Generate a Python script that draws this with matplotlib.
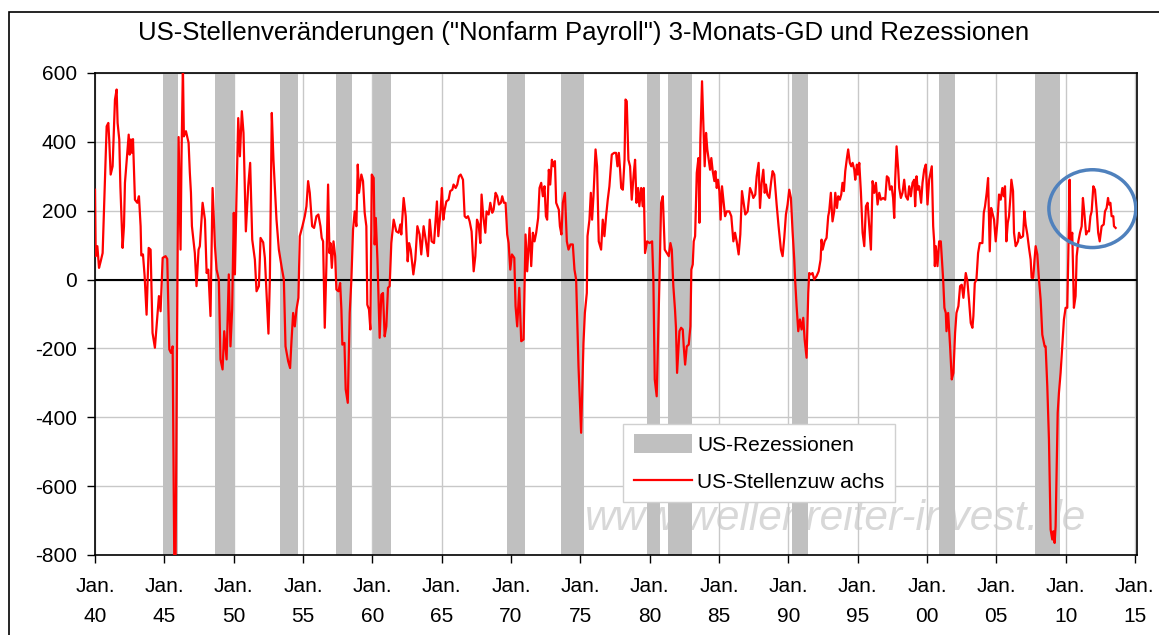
import matplotlib
matplotlib.use('Agg')
import matplotlib.pyplot as plt
from matplotlib.patches import Ellipse, Rectangle
from matplotlib.lines import Line2D

plt.rcParams['font.family'] = ['Liberation Sans', 'DejaVu Sans']

# 3-Monats-GD der Stellenveraenderung (Tsd.)
jahr = [
    1940.00, 1940.05, 1940.17, 1940.29, 1940.41, 1940.55, 1940.84, 1940.96, 1941.03, 1941.13,
    1941.27, 1941.44, 1941.56, 1941.63, 1941.75, 1941.83, 1941.99, 1942.09, 1942.16, 1942.43,
    1942.50, 1942.59, 1942.67, 1942.74, 1942.88, 1943.05, 1943.17, 1943.29, 1943.34, 1943.46,
    1943.58, 1943.72, 1943.87, 1944.01, 1944.15, 1944.32, 1944.61, 1944.73, 1944.88, 1945.09,
    1945.21, 1945.36, 1945.48, 1945.60, 1945.72, 1945.81, 1945.96, 1946.03, 1946.17, 1946.24,
    1946.34, 1946.41, 1946.56, 1946.75, 1946.84, 1946.92, 1946.99, 1947.20, 1947.32, 1947.47,
    1947.56, 1947.76, 1947.93, 1948.05, 1948.17, 1948.33, 1948.48, 1948.65, 1948.77, 1948.93,
    1949.05, 1949.20, 1949.32, 1949.49, 1949.65, 1949.77, 1949.89, 1950.01, 1950.09, 1950.21,
    1950.33, 1950.45, 1950.59, 1950.71, 1950.88, 1951.05, 1951.19, 1951.34, 1951.53, 1951.65,
    1951.82, 1951.94, 1952.13, 1952.25, 1952.51, 1952.61, 1952.75, 1952.87, 1953.09, 1953.26,
    1953.47, 1953.62, 1953.74, 1953.93, 1954.07, 1954.17, 1954.29, 1954.41, 1954.53, 1954.67,
    1954.77, 1954.96, 1955.13, 1955.25, 1955.37, 1955.49, 1955.66, 1955.80, 1955.97, 1956.11,
    1956.26, 1956.35, 1956.45, 1956.57, 1956.69, 1956.81, 1956.91, 1956.98, 1957.08, 1957.20,
    1957.32, 1957.41, 1957.56, 1957.68, 1957.77, 1957.84, 1957.99, 1958.08, 1958.23, 1958.37,
    1958.49, 1958.61, 1958.73, 1958.85, 1958.95, 1959.04, 1959.21, 1959.33, 1959.45, 1959.57,
    1959.64, 1959.76, 1959.86, 1959.96, 1960.10, 1960.17, 1960.25, 1960.37, 1960.53, 1960.65,
    1960.77, 1960.89, 1961.01, 1961.13, 1961.25, 1961.37, 1961.54, 1961.73, 1961.90, 1962.02,
    1962.09, 1962.26, 1962.41, 1962.55, 1962.65, 1962.77, 1962.96, 1963.10, 1963.25, 1963.41,
    1963.53, 1963.70, 1963.85, 1964.01, 1964.14, 1964.28, 1964.45, 1964.66, 1964.76, 1964.93,
    1965.02, 1965.12, 1965.22, 1965.34, 1965.50, 1965.62, 1965.77, 1965.86, 1966.01, 1966.13,
    1966.25, 1966.37, 1966.54, 1966.66, 1966.78, 1966.90, 1967.02, 1967.16, 1967.31, 1967.43,
    1967.55, 1967.67, 1967.79, 1967.88, 1968.00, 1968.15, 1968.24, 1968.39, 1968.51, 1968.65,
    1968.75, 1968.89, 1969.01, 1969.13, 1969.27, 1969.37, 1969.49, 1969.61, 1969.73, 1969.83,
    1969.95, 1970.07, 1970.24, 1970.33, 1970.45, 1970.60, 1970.74, 1970.91, 1971.05, 1971.17,
    1971.34, 1971.46, 1971.58, 1971.70, 1971.82, 1971.96, 1972.06, 1972.18, 1972.30, 1972.42,
    1972.52, 1972.61, 1972.73, 1972.83, 1972.95, 1973.07, 1973.17, 1973.26, 1973.45, 1973.53,
    1973.64, 1973.74, 1973.89, 1974.03, 1974.15, 1974.29, 1974.46, 1974.58, 1974.70, 1974.87,
    1975.06, 1975.23, 1975.33, 1975.47, 1975.52, 1975.66, 1975.76, 1975.85, 1975.95, 1976.10,
    1976.21, 1976.33, 1976.50, 1976.62, 1976.74, 1976.86, 1976.98, 1977.10, 1977.27, 1977.44,
    1977.58, 1977.68, 1977.78, 1977.87, 1977.95, 1978.07, 1978.19, 1978.26, 1978.35, 1978.47,
    1978.59, 1978.71, 1978.86, 1978.95, 1979.05, 1979.17, 1979.26, 1979.39, 1979.50, 1979.58,
    1979.67, 1979.82, 1979.99, 1980.18, 1980.27, 1980.37, 1980.51, 1980.71, 1980.83, 1980.95,
    1981.09, 1981.24, 1981.38, 1981.50, 1981.60, 1981.71, 1981.83, 1981.90, 1981.98, 1982.15,
    1982.27, 1982.39, 1982.46, 1982.56, 1982.68, 1982.82, 1982.94, 1983.01, 1983.11, 1983.18,
    1983.28, 1983.40, 1983.52, 1983.59, 1983.66, 1983.78, 1983.88, 1983.97, 1984.07, 1984.16,
    1984.26, 1984.36, 1984.45, 1984.55, 1984.67, 1984.74, 1984.84, 1984.93, 1985.03, 1985.12,
    1985.22, 1985.32, 1985.44, 1985.56, 1985.75, 1985.89, 1986.04, 1986.16, 1986.28, 1986.42,
    1986.54, 1986.66, 1986.78, 1986.90, 1987.07, 1987.24, 1987.38, 1987.48, 1987.62, 1987.72,
    1987.86, 1987.96, 1988.08, 1988.20, 1988.30, 1988.39, 1988.49, 1988.63, 1988.77, 1988.87,
    1988.99, 1989.16, 1989.30, 1989.47, 1989.59, 1989.71, 1989.83, 1989.95, 1990.07, 1990.19,
    1990.31, 1990.43, 1990.50, 1990.60, 1990.72, 1990.84, 1990.96, 1991.08, 1991.18, 1991.32,
    1991.44, 1991.51, 1991.63, 1991.75, 1991.87, 1992.04, 1992.19, 1992.33, 1992.40, 1992.48,
    1992.62, 1992.76, 1992.88, 1992.95, 1993.07, 1993.19, 1993.31, 1993.39, 1993.51, 1993.60,
    1993.72, 1993.82, 1993.91, 1994.01, 1994.11, 1994.23, 1994.32, 1994.44, 1994.54, 1994.64,
    1994.76, 1994.83, 1994.95, 1995.02, 1995.12, 1995.24, 1995.36, 1995.48, 1995.60, 1995.72,
    1995.84, 1995.96, 1996.08, 1996.20, 1996.32, 1996.44, 1996.56, 1996.68, 1996.84, 1996.99,
    1997.11, 1997.23, 1997.33, 1997.45, 1997.56, 1997.64, 1997.71, 1997.81, 1997.93, 1998.00,
    1998.12, 1998.24, 1998.36, 1998.48, 1998.62, 1998.72, 1998.84, 1998.96, 1999.08, 1999.15,
    1999.25, 1999.34, 1999.44, 1999.58, 1999.68, 1999.80, 1999.92, 2000.04, 2000.16, 2000.35,
    2000.45, 2000.52, 2000.57, 2000.64, 2000.76, 2000.88, 2001.00, 2001.17, 2001.26, 2001.36,
    2001.41, 2001.53, 2001.67, 2001.79, 2001.91, 2002.03, 2002.13, 2002.27, 2002.39, 2002.51,
    2002.63, 2002.80, 2002.92, 2003.04, 2003.16, 2003.28, 2003.35, 2003.45, 2003.57, 2003.69,
    2003.81, 2004.00, 2004.10, 2004.19, 2004.31, 2004.41, 2004.53, 2004.63, 2004.72, 2004.84,
    2004.96, 2005.08, 2005.20, 2005.32, 2005.44, 2005.54, 2005.63, 2005.73, 2005.83, 2005.92,
    2006.04, 2006.09, 2006.21, 2006.28, 2006.40, 2006.47, 2006.57, 2006.64, 2006.76, 2006.93,
    2007.03, 2007.12, 2007.24, 2007.36, 2007.48, 2007.55, 2007.67, 2007.75, 2007.84, 2007.96,
    2008.08, 2008.20, 2008.32, 2008.49, 2008.56, 2008.68, 2008.80, 2008.92, 2009.04, 2009.12,
    2009.21, 2009.28, 2009.43, 2009.52, 2009.64, 2009.76, 2009.88, 2010.00, 2010.12, 2010.19,
    2010.29, 2010.36, 2010.48, 2010.60, 2010.72, 2010.80, 2010.92, 2011.04, 2011.16, 2011.25,
    2011.35, 2011.48, 2011.57, 2011.69, 2011.79, 2011.88, 2012.00, 2012.12, 2012.24, 2012.35,
    2012.46, 2012.60, 2012.75, 2012.84, 2012.96, 2013.06, 2013.13, 2013.23, 2013.32, 2013.44,
    2013.49, 2013.61,
]
stellen = [
    261, 68, 97, 34, 53, 77, 445, 455, 402, 305,
    329, 523, 552, 455, 407, 271, 92, 155, 281, 421,
    363, 407, 368, 408, 232, 223, 242, 155, 70, 73,
    10, -102, 92, 87, -155, -198, -48, -92, 63, 68,
    60, -203, -213, -194, -830, -830, 82, 414, 87, 358,
    620, 416, 431, 397, 310, 252, 155, 77, -19, 87,
    97, 223, 174, 19, 29, -106, 266, 97, 29, 0,
    -232, -261, -150, -232, 15, -194, -87, 194, 15, 252,
    469, 358, 489, 426, 140, 271, 339, 116, 58, -34,
    -19, 121, 108, 63, -157, 0, 484, 348, 174, 87,
    34, 0, -194, -237, -257, -179, -97, -136, -87, -53,
    126, 155, 184, 213, 286, 252, 155, 150, 184, 189,
    155, 121, 111, -140, 44, 276, 77, 106, 34, 111,
    68, -29, -34, -10, -87, -189, -184, -319, -358, -97,
    0, 145, 198, 155, 334, 252, 305, 286, 194, 155,
    -73, -87, -145, 305, 295, 102, 179, 58, -169, -44,
    -39, -165, -136, -24, -19, 106, 174, 140, 136, 160,
    131, 237, 184, 53, 106, 87, 15, 58, 155, 131,
    73, 155, 116, 68, 174, 111, 106, 227, 126, 203,
    266, 174, 203, 227, 232, 257, 261, 276, 266, 276,
    300, 305, 290, 184, 179, 184, 169, 140, 24, 68,
    174, 160, 106, 247, 184, 136, 198, 189, 223, 194,
    203, 252, 242, 218, 223, 242, 223, 223, 131, 106,
    29, 73, 63, -77, -136, -24, -179, -174, 131, 24,
    150, 39, 136, 111, 136, 179, 266, 281, 242, 271,
    184, 174, 319, 276, 348, 329, 344, 223, 203, 155,
    131, 223, 252, 111, 87, 102, 102, 29, 0, -252,
    -445, -184, -97, -39, 126, 174, 252, 174, 242, 378,
    329, 111, 87, 174, 126, 184, 232, 271, 363, 368,
    368, 329, 368, 319, 266, 261, 348, 523, 518, 348,
    329, 232, 310, 348, 223, 266, 213, 266, 213, 266,
    77, 111, 106, 111, 0, -290, -339, 0, 223, 242,
    87, 77, 68, 106, 87, -19, -87, -140, -271, -150,
    -140, -145, -194, -247, -194, -189, -136, 29, 44, 111,
    126, 310, 353, 165, 407, 576, 445, 329, 426, 378,
    348, 319, 353, 315, 286, 315, 266, 290, 257, 174,
    271, 232, 184, 198, 198, 184, 111, 136, 111, 73,
    131, 257, 223, 189, 198, 266, 252, 237, 247, 300,
    339, 208, 281, 319, 252, 276, 247, 237, 286, 315,
    305, 218, 155, 87, 68, 121, 189, 218, 261, 237,
    140, 58, -5, -77, -150, -116, -145, -111, -174, -227,
    -39, 19, 15, 19, 0, 10, 24, 58, 116, 87,
    111, 121, 184, 198, 252, 169, 198, 252, 208, 242,
    232, 247, 281, 257, 315, 353, 378, 339, 329, 339,
    319, 290, 334, 305, 339, 252, 136, 97, 213, 223,
    155, 87, 286, 252, 281, 218, 252, 232, 237, 232,
    300, 295, 261, 271, 237, 179, 290, 387, 319, 266,
    237, 252, 290, 242, 232, 271, 242, 281, 290, 213,
    300, 261, 271, 223, 281, 319, 334, 218, 290, 329,
    155, 111, 39, 97, 39, 111, 111, 0, -82, -97,
    -150, -97, -194, -290, -271, -155, -97, -77, -19, -15,
    -53, 19, -5, -63, -126, -140, -106, -10, 0, 77,
    106, 106, 194, 213, 252, 295, 82, 208, 194, 174,
    111, 165, 247, 232, 266, 242, 271, 111, 165, 184,
    252, 290, 257, 136, 97, 102, 111, 136, 121, 126,
    198, 160, 131, 92, 58, 5, 5, 53, 97, 73,
    0, -58, -160, -194, -194, -310, -465, -726, -755, -731,
    -765, -716, -387, -329, -271, -194, -116, -82, -82, 58,
    290, 106, 136, -82, -48, 68, 111, 136, 155, 237,
    194, 131, 140, 140, 184, 198, 271, 261, 203, 136,
    111, 155, 160, 198, 208, 237, 218, 223, 184, 184,
    155, 150,
]

# Rezessionen (Beginn, Ende) in Jahren
rez_start = [1944.87, 1948.63, 1953.33, 1957.36, 1960.07, 1969.73, 1973.60, 1979.80, 1981.35, 1990.29, 2000.86, 2007.77]
rez_ende = [1946.02, 1950.07, 1954.63, 1958.51, 1961.37, 1971.00, 1975.30, 1980.77, 1983.04, 1991.39, 2001.99, 2009.62]

x_ticks = list(range(1940, 2016, 5))
x_labels = ['Jan.\n%02d' % (j % 100) for j in x_ticks]
y_ticks = list(range(-800, 601, 200))

fig = plt.figure(figsize=(11.59, 6.35), dpi=100)
ax = fig.add_axes([95 / 1159, 80 / 635, 1042 / 1159, 482 / 635])

# aeusserer Rahmen
fig.patches.append(Rectangle((9 / 1159, -0.1), 1.2, (635 - 12) / 635 + 0.1, transform=fig.transFigure,
                             fill=False, edgecolor='black', lw=1.2))

ax.text(0.7105, 0.075, 'www.wellenreiter-invest.de', transform=ax.transAxes, ha='center', va='center',
        fontsize=30.5, style='italic', color='#d8d8d8', zorder=0.5)

for s, e in zip(rez_start, rez_ende):
    ax.axvspan(s, e, color='#c0c0c0', lw=0, zorder=1)

ax.axhline(0, color='black', lw=1.5, zorder=2)
ax.plot(jahr, stellen, color='red', lw=1.6, zorder=3)

ax.add_patch(Ellipse((2011.93, 206), 6.27, 226, fill=False, edgecolor='#4f81bd', lw=2.5, zorder=5))

ax.set_xlim(1940, 2015.15)
ax.set_ylim(-800, 600)
ax.set_xticks(x_ticks)
ax.set_xticklabels(x_labels, fontsize=15, linespacing=1.75)
ax.set_yticks(y_ticks)
ax.set_yticklabels([str(v) for v in y_ticks], fontsize=15)
ax.tick_params(axis='both', direction='out', length=6, width=1)
ax.tick_params(axis='x', pad=10)
ax.tick_params(axis='y', pad=7)
ax.grid(True, color='#c8c8c8', lw=1, zorder=0)
ax.set_axisbelow(True)
for sp in ax.spines.values():
    sp.set_linewidth(1.2)

handles = [Rectangle((0, 0), 1, 1, facecolor='#c0c0c0', edgecolor='none'),
           Line2D([], [], color='red', lw=1.6)]
leg = ax.legend(handles, ['US-Rezessionen', 'US-Stellenzuw achs'], loc='upper left',
                bbox_to_anchor=(0.507, 0.272), borderaxespad=0, fontsize=15, fancybox=False,
                framealpha=1, edgecolor='#d0d0d0', handlelength=2.8, handleheight=1.0,
                labelspacing=0.8, borderpad=0.5, handletextpad=0.25)
leg.set_zorder(6)

fig.text(584 / 1159, 1 - 33 / 635, 'US-Stellenveränderungen ("Nonfarm Payroll") 3-Monats-GD und Rezessionen',
         ha='center', va='center', fontsize=18.5)

fig.savefig('out.png', dpi=100)
